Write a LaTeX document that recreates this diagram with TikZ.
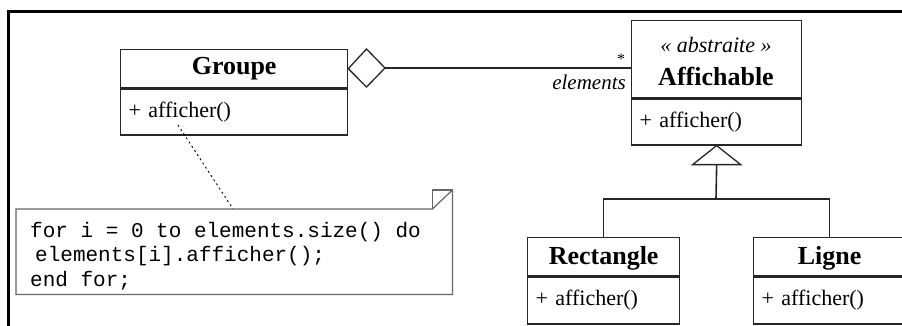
\documentclass[tikz,border=0pt]{standalone}
\usepackage{fontspec}
\setmainfont{Liberation Serif}
\setmonofont{Liberation Mono}
\begin{document}
\begin{tikzpicture}[x=1pt,y=-1pt,
  umlline/.style={draw=black!85, line width=1.3pt},
  hdr/.style={umlline, inner sep=0pt, anchor=north west, font=\fontsize{26}{28}\selectfont\bfseries},
  body/.style={umlline, inner xsep=8pt, inner ysep=0pt, anchor=north west, align=left, font=\fontsize{22}{24}\selectfont},
  plain/.style={inner sep=0pt},
  notebord/.style={draw=black!60, line width=1.2pt},
  inh/.style={draw=black!85, line width=1.6pt}]
\useasboundingbox (0,0) rectangle (902,326);
\clip (0,0) rectangle (902,326);
% frame
\draw[line width=3pt] (8.5,326) -- (8.5,12) -- (902,12);
% Groupe
\node[hdr, minimum width=227pt, minimum height=38pt] (groupeH) at (120,49) {Groupe};
\node[body, minimum width=227pt, minimum height=46pt, text width=211pt] (groupeB) at (groupeH.south west) {+ afficher()};
% Affichable
\node[hdr, minimum width=170pt, minimum height=77pt] (affH) at (631,20) {};
\node[plain, font=\fontsize{22}{24}\selectfont\itshape] (affS) at (716,45) {« abstraite »};
\node[plain, font=\fontsize{26}{28}\selectfont\bfseries] (affN) at (716,76) {Affichable};
\node[body, minimum width=170pt, minimum height=46pt, text width=154pt] (affB) at (affH.south west) {+ afficher()};
% Rectangle
\node[hdr, minimum width=152pt, minimum height=38pt, text depth=2pt] (rectH) at (527,237) {Rectangle};
\node[body, minimum width=152pt, minimum height=47pt, text width=136pt] (rectB) at (rectH.south west) {+ afficher()};
% Ligne
\node[hdr, minimum width=152pt, minimum height=38pt, text depth=2pt] (ligH) at (753,237) {Ligne};
\node[body, minimum width=152pt, minimum height=47pt, text width=136pt] (ligB) at (ligH.south west) {+ afficher()};
% aggregation
\coordinate (diaW) at (groupeH.east);
\coordinate (diaN) at (366.5,49);
\coordinate (diaE) at (385,68);
\coordinate (diaS) at (366.5,87);
\draw[umlline, fill=white] (diaW) -- (diaN) -- (diaE) -- (diaS) -- cycle;
\draw[umlline] (diaE) -- (diaE -| affH.west);
\node[plain, font=\fontsize{16}{18}\selectfont] (mult) at (621,59) {*};
\node[plain, anchor=east, font=\fontsize{21}{23}\selectfont\itshape] (role) at (626,82) {elements};
% generalisation
\coordinate (triB) at ([yshift=-19pt]affB.south);
\coordinate (br) at (716,199);
\draw[inh] (triB) -- (br);
\draw[umlline] (rectH.north) |- (br) -| (ligH.north);
\draw[umlline, fill=white] (affB.south) -- ++(24,19) -- ++(-48,0) -- cycle;
% note
\node[plain, anchor=north west, minimum width=436pt, minimum height=85pt] (note) at (16,209) {};
\coordinate (fold) at ([xshift=-20pt]note.north east);
\coordinate (foldB) at ([yshift=19pt]note.north east);
\draw[notebord] (note.south west) -- (note.north west) -- (fold) -- (foldB) -- (note.south east) -- cycle;
\draw[notebord] (fold) |- (foldB);
\node[plain, anchor=base west, align=left, font=\fontsize{21}{24.5}\selectfont\ttfamily] (code) at (30,286)
  {for i = 0 to elements.size() do\\\hspace*{5pt}elements[i].afficher();\\end for;};
% note link
\coordinate (lnk) at (178,125);
\coordinate (lnkE) at ([xshift=217pt]note.north west);
\draw[dash pattern=on 2pt off 3pt, line width=0.9pt] (lnk) -- (lnkE);
\end{tikzpicture}
\end{document}
